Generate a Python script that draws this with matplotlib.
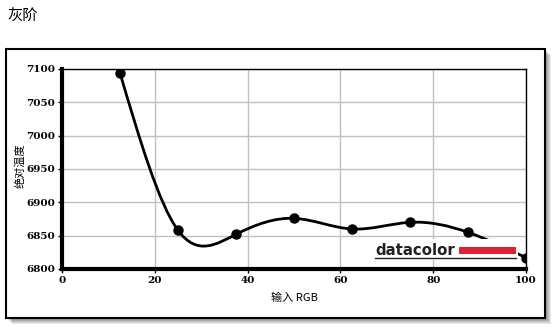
import numpy as np
import matplotlib
matplotlib.use("Agg")
import matplotlib.pyplot as plt
from matplotlib.patches import Rectangle, PathPatch
from matplotlib.path import Path

# data
rgb_input = [12.5, 25, 37.5, 50, 62.5, 75, 87.5, 100]
cct = [7094, 6858, 6852, 6876, 6860, 6870, 6855, 6817]
x_ticks = [0, 20, 40, 60, 80, 100]
y_ticks = [6800, 6850, 6900, 6950, 7000, 7050, 7100]

title = "灰阶"
x_label = "输入 RGB"
y_label = "绝对温度"

W, H = 558, 329
CJK = ["Noto Sans CJK SC", "DejaVu Sans"]


def fx(px):
    return px / W


def fy(py):
    return 1 - py / H


def spline_path(xs, ys):
    """natural cubic spline through the points, as bezier segments"""
    xs = np.asarray(xs, float)
    ys = np.asarray(ys, float)
    n = len(xs)
    h = np.diff(xs)
    A = np.zeros((n, n))
    b = np.zeros(n)
    A[0, 0] = A[-1, -1] = 1
    for i in range(1, n - 1):
        A[i, i - 1] = h[i - 1]
        A[i, i] = 2 * (h[i - 1] + h[i])
        A[i, i + 1] = h[i]
        b[i] = 6 * ((ys[i + 1] - ys[i]) / h[i] - (ys[i] - ys[i - 1]) / h[i - 1])
    M = np.linalg.solve(A, b)
    verts = [(xs[0], ys[0])]
    codes = [Path.MOVETO]
    for i in range(n - 1):
        hi = h[i]
        slope = (ys[i + 1] - ys[i]) / hi
        d0 = slope - hi * (2 * M[i] + M[i + 1]) / 6
        d1 = slope + hi * (M[i] + 2 * M[i + 1]) / 6
        verts += [(xs[i] + hi / 3, ys[i] + hi / 3 * d0),
                  (xs[i + 1] - hi / 3, ys[i + 1] - hi / 3 * d1),
                  (xs[i + 1], ys[i + 1])]
        codes += [Path.CURVE4] * 3
    return Path(verts, codes)


fig = plt.figure(figsize=(W / 100, H / 100), dpi=100)

# outer frame with soft shadow
for k in range(6):
    off = 6 - k
    fig.patches.append(Rectangle((fx(6 + off), fy(318 + off)), fx(539), 269 / H,
                                 transform=fig.transFigure, facecolor="black",
                                 edgecolor="none", alpha=0.09, zorder=-3))
fig.patches.append(Rectangle((fx(6), fy(318)), fx(539), 269 / H,
                             transform=fig.transFigure, facecolor="white",
                             edgecolor="black", linewidth=1.5, zorder=-1))

fig.text(fx(7), fy(16), title, fontsize=11, family=CJK, va="center", ha="left")

ax = fig.add_axes([fx(62), fy(269), fx(464), 200 / H])
ax.set_xlim(0, 100)
ax.set_ylim(6800, 7100)
ax.set_xticks(x_ticks)
ax.set_yticks(y_ticks)
ax.grid(True, color="#c0c0c0", linewidth=1)
ax.set_axisbelow(True)
for side in ["left", "bottom"]:
    ax.spines[side].set_linewidth(3)
for side in ["top", "right"]:
    ax.spines[side].set_linewidth(1)
ax.tick_params(direction="out", length=3, width=1, pad=2,
               labelsize=7.5, labelfontfamily="DejaVu Serif")
for lab in ax.get_xticklabels() + ax.get_yticklabels():
    lab.set_fontweight("bold")

ax.add_patch(PathPatch(spline_path(rgb_input, cct), facecolor="none",
                       edgecolor="black", linewidth=2, zorder=3))
ax.plot(rgb_input, cct, "o", color="black", markersize=6.5, zorder=4)

fig.text(fx(20), fy(166), y_label, rotation=90, fontsize=8, family=CJK,
         ha="center", va="center")
fig.text(fx(294), fy(298), x_label, fontsize=8, family=CJK,
         ha="center", va="center")

# datacolor logo
fig.patches.append(Rectangle((fx(373), fy(260)), fx(145), 21 / H,
                             transform=fig.transFigure, facecolor="white",
                             edgecolor="none", zorder=5))
fig.patches.append(Rectangle((fx(459), fy(254)), fx(57), 7 / H,
                             transform=fig.transFigure, facecolor="#e3202f",
                             edgecolor="none", zorder=6))
fig.lines.append(plt.Line2D([fx(375), fx(516)], [fy(258), fy(258)],
                            transform=fig.transFigure, color="#222222",
                            linewidth=1, zorder=6))
fig.text(fx(375), fy(255), "datacolor", fontsize=10.8, fontweight="bold",
         family="DejaVu Sans", color="#222222", ha="left", va="baseline",
         zorder=7)

fig.savefig("out.png", dpi=100)
